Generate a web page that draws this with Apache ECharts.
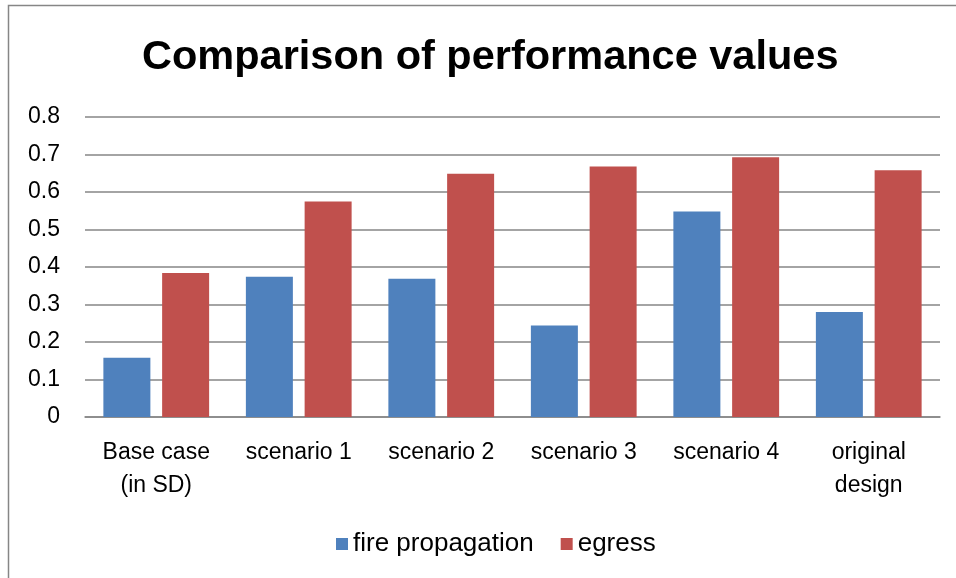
<!DOCTYPE html>
<html>
<head>
<meta charset="utf-8">
<script src="https://cdn.jsdelivr.net/npm/echarts@6/dist/echarts.min.js"></script>
<style>
html,body{margin:0;padding:0;background:#fff;}
#c{width:956px;height:578px;}
</style>
</head>
<body>
<div id="c"></div>
<script>
const categories = ['Base case\n(in SD)', 'scenario 1', 'scenario 2', 'scenario 3', 'scenario 4', 'original\ndesign'];
const firePropagation = [0.158, 0.374, 0.369, 0.244, 0.548, 0.28];
const egress = [0.384, 0.575, 0.649, 0.668, 0.693, 0.658];
const yTicks = { min: 0, max: 0.8, interval: 0.1 };

const FONT = 'Liberation Sans';
const chart = echarts.init(document.getElementById('c'), null, { renderer: 'canvas' });
chart.setOption({
  backgroundColor: '#fff',
  animation: false,
  textStyle: { fontFamily: FONT, color: '#000' },
  graphic: [{
    type: 'rect',
    shape: { x: 8.5, y: 5.5, width: 960, height: 600 },
    style: { fill: 'none', stroke: '#868686', lineWidth: 1.5 },
    silent: true
  }],
  title: {
    text: 'Comparison of performance values',
    left: 137,
    top: 32,
    textStyle: { fontFamily: FONT, fontWeight: 'bold', fontSize: 41.5, color: '#000' }
  },
  legend: {
    top: 526,
    left: 331,
    itemWidth: 12,
    itemHeight: 12,
    itemGap: 27,
    icon: 'rect',
    textStyle: { fontFamily: FONT, fontSize: 26, color: '#000' },
    data: ['fire propagation', 'egress']
  },
  grid: { left: 85, right: 16, top: 117, bottom: 161 },
  xAxis: {
    type: 'category',
    data: categories,
    axisLine: { lineStyle: { color: '#868686', width: 1.5 } },
    axisTick: { show: false },
    axisLabel: { fontFamily: FONT, fontSize: 23, color: '#000', lineHeight: 33, margin: 19, interval: 0 }
  },
  yAxis: {
    type: 'value',
    min: yTicks.min,
    max: yTicks.max,
    interval: yTicks.interval,
    axisLine: { show: false },
    axisTick: { show: false },
    splitLine: { lineStyle: { color: '#868686', width: 1.5 } },
    axisLabel: {
      fontFamily: FONT, fontSize: 23, color: '#000', margin: 25,
      formatter: v => (Math.round(v * 10) / 10).toString()
    }
  },
  series: [
    {
      name: 'fire propagation', type: 'bar', data: firePropagation,
      barWidth: 47, barGap: '25%',
      itemStyle: { color: '#4F81BD' }
    },
    {
      name: 'egress', type: 'bar', data: egress,
      barWidth: 47, barGap: '25%',
      itemStyle: { color: '#C0504D' }
    }
  ]
});
</script>
</body>
</html>
